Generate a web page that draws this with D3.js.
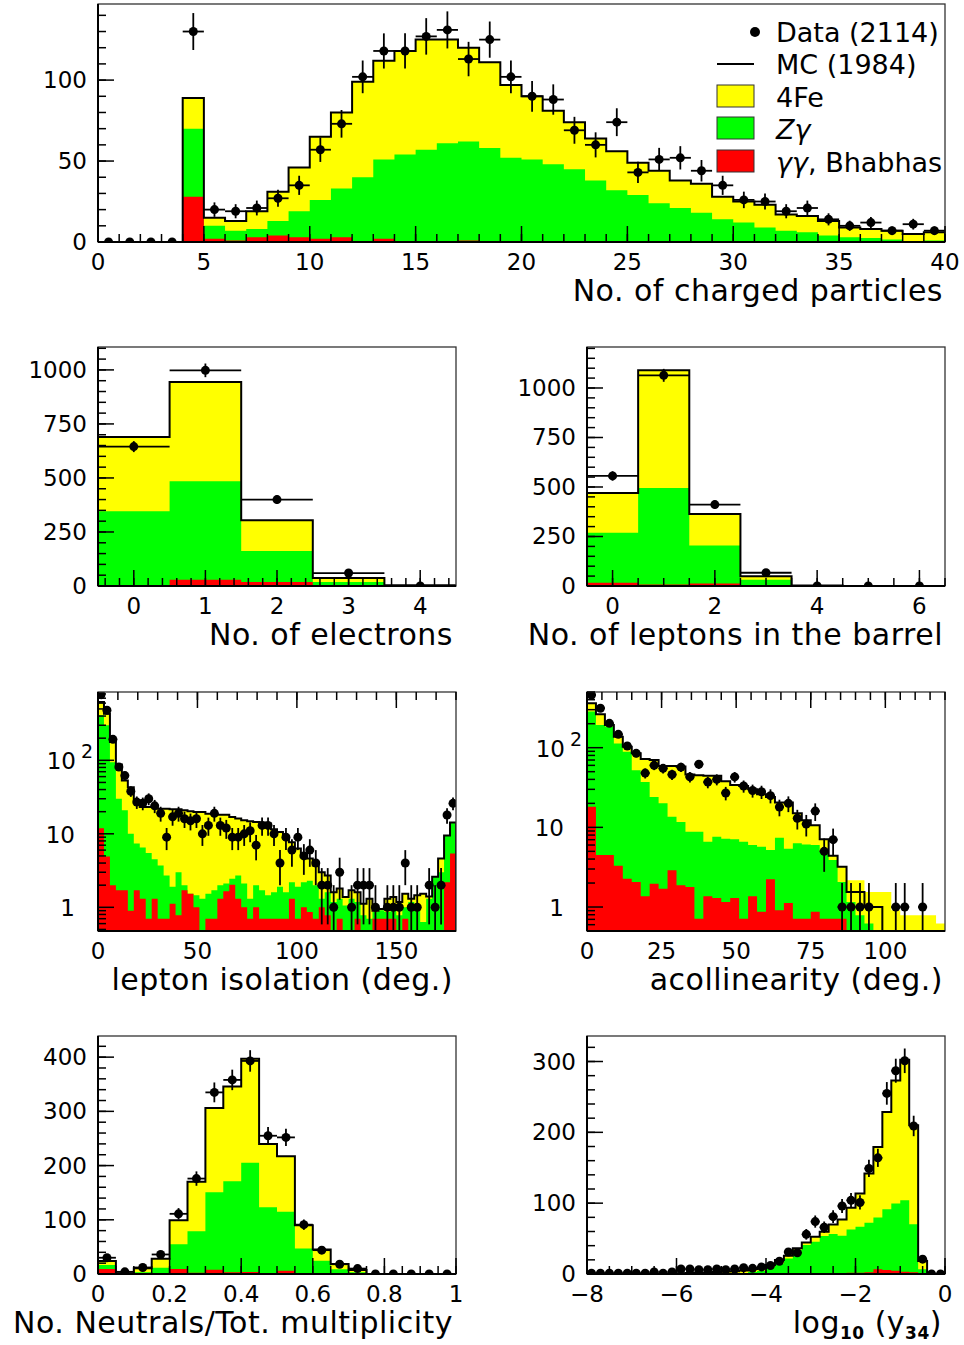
<!DOCTYPE html>
<html>
<head>
<meta charset="utf-8">
<script src="https://cdn.jsdelivr.net/npm/d3@7"></script>
<style>
  body { margin: 0; background: #fff; }
  svg { display: block; font-family: "DejaVu Sans", sans-serif; }
</style>
</head>
<body>
<svg id="chart" width="964" height="1345"></svg>
<script>
// ---- No. of charged particles (40 bins, 0..40)
const nchData = [0,0,0,0,130,20,19,21,27,35,57,73,102,118,118,127,131,113,125,102,90,88,69,60,74,43,51,52,44,35,26,25,19,21,14,10,12,7,11,7]
const nchMC = [0,0,0,0,89,15,13,19,31,46,65,80,99,112,118,125,125,120,111,97,90,81,74,64,56,49,44,38,36,28,25,23,17,16,13,9,8,7,5,6]
const nchZg = [0,0,0,0,70,10,7,8,13,19,26,33,40,51,54,57,61,62,58,52,51,48,45,38,32,29,24,21,18,14,12,9,7,6,4,3,2.5,1.5,0.5,1]
const nchGG = [0,0,0,0,28,2,1,3,4,3,2,3,0.5,2,0,0,0,1,0,0,0,0,0,0,0,0,0,0,0,0,0,0,0,0,0,0,0,0,0,0]

// ---- No. of electrons (0..4)
const eleData = [645,998,400,60,0]
const eleMC = [690,944,304,37,3]
const eleZg = [346,485,162,18,0]
const eleGG = [0,29,18.5,0,0]

// ---- No. of leptons in the barrel (0..6)
const barData = [556,1064,411,67,0,0,0]
const barMC = [470,1089,364,49,3,0,0]
const barZg = [269,495,205,32,0,0,0]
const barGG = [17,8,12,0,0,0,0]

// ---- lepton isolation (60 bins of 3 deg)
const isoData = [780,480,193,81,62,38,27,26,30,24,19,9,17,19,16,15,16,10,13,19,13,12,9,9,10,11,7,13,13,10,4,9,6,9,5,6,4,2,2,1,3,0,1,2,2,2,1,0,1,1,1,4,1,1,0,2,1,2,18,26]
const isoMC = [620,430,178,88,53,43,28.6,23.2,23.2,23.2,22,22,21.5,21.5,20.9,20.3,19.8,19.8,18.8,18.8,18.2,18.2,16.9,16.1,15.3,14.8,14.5,14.2,13.7,11.5,10.6,8.6,7.7,6.3,5.4,4.6,3.7,3.0,2.7,1.6,1.8,1.38,1.7,1.6,1.12,1.31,0.9,0.95,1.31,1.38,1.18,1.53,1.31,1.46,1.53,1.4,2.6,4.6,9.5,14.2]
const isoZg = [410,300,94,30,21,10,7.4,6.5,5.5,4.5,3.7,2.7,1.9,3.0,2.0,1.53,1.46,1.31,1.53,1.7,2.0,2.1,2.45,2.7,2.1,1.31,2.0,1.7,1.46,1.6,1.9,1.6,2.2,1.9,2.2,2.3,2.0,1.31,1.6,1.18,1.31,1.06,1.31,1.18,0.78,0.70,0.86,0.91,0.86,0.91,0.78,1.0,1.18,1.0,0.63,1.31,2.6,3.0,9.5,14.2]
const isoGG = [11.9,4.9,2.0,1.7,1.7,0.9,1.7,1.31,0.7,1.31,0.7,0.7,1.12,0.78,1.7,1.53,1.0,0,0.7,0.7,1.31,1.65,2.03,1.31,1.0,0.7,1.0,0.7,0.7,0.7,0.7,0.7,1.31,0.7,1.0,0.86,0.7,1.0,0.78,0,0.7,0,0,0.7,0,0,0.7,0.7,0.7,0.7,0,0.7,0,0,0,0,0,0,2.2,5.4]

// ---- acollinearity (40 bins of 3 deg)
const acoData = [459,313,202,147,105,85,48,60,55,46,57,43,62,37,40,27,43,33,29,28,25,18,20,13,11,16,5,7,1,1,1,1,0,0,1,1,0,1,0,0]
const acoMC = [361,263,193,137,103,85,72,70,59,59,58,46,45,44.5,44.5,38,34,33,30,26,24,20.5,20.5,15,12.3,10.6,7.1,4.4,3.2,1.54,1.54,1.0,1.0,0,0,0,0,0,0,0]
const acoFe = [361,263,193,137,103,85,72,70,59,59,58,46,45,44.5,44.5,38,34,33,30,26,24,20.5,20.5,15,12.3,10.6,7.1,4.4,3.2,2.16,2.16,1.54,1.54,1.54,0.91,0.79,0.79,0.79,0.79,0.62]
const acoZg = [284,193,184,113,89,52,37,24,20,13.6,11.7,8.8,8.8,6.6,7.6,7.2,7.1,6.6,6.0,5.7,5.2,7.4,5.4,6.3,6.1,6.0,4.9,3.9,2.06,1.16,0.79,0.62,0,0,0,0,0,0,0,0]
const acoGG = [18.1,4.5,4.5,3.3,2.27,2.06,1.37,1.96,1.7,2.89,1.87,1.78,0.71,1.37,1.3,1.16,1.3,0.71,1.37,0.87,2.23,0.91,1.12,0.71,0.71,0.87,0.71,0.71,0.71,0,0,0,0,0,0,0,0,0,0,0]

// ---- No. Neutrals / Tot. multiplicity (20 bins of 0.05)
const neuData = [30,4,12,36,111,176,335,358,393,255,252,91,44,18,10,0,0,0,0,0]
const neuMC = [24,1.2,10.4,28,99,170,306,346,397,240,217,90,45,18.4,7.4,0,0,0,0,0]
const neuZg = [16.6,0.6,3,11.7,55,79,151,171,205,123,115,47,24.5,8.6,3,0,0,0,0,0]
const neuGG = [9.2,0,0.5,0,9.2,2.5,8,3,3.7,1,6,0,0,0,0,0,0,0,0,0]

// ---- log10(y34) (40 bins of 0.2, -8..0)
const y34Data = [1,1,1,1,1,1,1,3,1,3,7,7,6,6,7,6,7,9,8,10,12,18,31,30,56,74,66,81,96,104,101,149,164,255,287,301,209,21,0,0]
const y34MC = [0.5,0.5,0.5,0.5,0.5,0.5,0.5,0.5,0.5,0.5,1,1.5,2,2,3,3.5,4,5,7,9,12.7,19.7,25.8,36.2,44.6,52.6,59.6,70,77,93.4,113.6,141.8,179.3,228.6,273.2,302.3,209.9,18.3,0,0]
const y34Zg = [0,0,0,0,0,0,0,0,0,0,0,0,0,0,0,0.5,1,1.5,2.8,4.7,9.4,15,22,33.8,40.8,45.5,53.5,56.3,54,62.9,66.7,72.3,79.8,91.5,99.5,104.2,70.4,6.6,0,0]
const y34GG = [0,0,0,0,0,0,0,0,0,0,0,0,0,0,0,0,0,0,0,0,0,0,0,0,0,1,1,1,1,1.9,1.9,2.3,6.6,5.6,4.7,3.3,2.3,0,0,0]

const YEL = "#ffff00", GRN = "#00ff00", RED = "#ff0000";
const svg = d3.select("#chart");
let clipCount = 0

//Ticks from a to b every step, rounded to avoid float noise
function tickRange(step, a, b) {
  return d3.range(Math.ceil(a / step - 1e-9), Math.floor(b / step + 1e-9) + 1).map(k => +(k * step).toFixed(6));
}

function fmtNum(d) {
  return d < 0 ? "\u2212" + Math.abs(d) : String(d);
}

function panel(p) {
  const g = svg.append("g");
  const x = d3.scaleLinear().domain([p.lo, p.hi]).range([p.left, p.right]);
  const y = (p.log ? d3.scaleLog() : d3.scaleLinear()).domain(p.yDomain).range([p.bottom, p.top]).clamp(true);
  const n = p.data.length;
  const w = (p.hi - p.lo) / n;

  const cid = "clip" + (clipCount++);
  g.append("clipPath").attr("id", cid).append("rect")
    .attr("x", p.left).attr("y", p.top).attr("width", p.right - p.left).attr("height", p.bottom - p.top);
  const inner = g.append("g").attr("clip-path", "url(#" + cid + ")");

  // stacked fills drawn as steps
  const stepPts = vals => d3.range(n + 1).map(i => [p.lo + i * w, vals[Math.min(i, n - 1)]]);
  const area = d3.area().curve(d3.curveStepAfter)
    .x(d => x(d[0])).y0(p.bottom).y1(d => y(d[1]));
  inner.append("path").attr("d", area(stepPts(p.fe || p.mc))).attr("fill", YEL);
  inner.append("path").attr("d", area(stepPts(p.zg))).attr("fill", GRN);
  inner.append("path").attr("d", area(stepPts(p.gg))).attr("fill", RED);

  // MC outline
  const outline = [[p.lo, 0]]
    .concat(d3.range(n).flatMap(i => [[p.lo + i * w, p.mc[i]], [p.lo + (i + 1) * w, p.mc[i]]]))
    .concat([[p.hi, 0]]);
  inner.append("path")
    .attr("d", d3.line().x(d => x(d[0])).y(d => y(d[1]))(outline))
    .attr("fill", "none").attr("stroke", "#000").attr("stroke-width", 2);

  // data with errors
  p.data.forEach((v, i) => {
    if (p.log && v <= 0) return;
    const cx = x(p.lo + (i + 0.5) * w);
    const dg = inner.append("g");
    if (v > 0) {
      const e = Math.sqrt(v);
      dg.append("line").attr("x1", x(p.lo + i * w)).attr("x2", x(p.lo + (i + 1) * w))
        .attr("y1", y(v)).attr("y2", y(v)).attr("stroke", "#000").attr("stroke-width", 1.8);
      dg.append("line").attr("x1", cx).attr("x2", cx)
        .attr("y1", y(Math.max(v - e, 0))).attr("y2", y(v + e)).attr("stroke", "#000").attr("stroke-width", 1.8);
    }
    dg.append("circle").attr("cx", cx).attr("cy", y(v)).attr("r", 4.5).attr("fill", "#000");
  });

  // frame
  g.append("rect").attr("x", p.left).attr("y", p.top)
    .attr("width", p.right - p.left).attr("height", p.bottom - p.top)
    .attr("fill", "none").attr("stroke", "#333").attr("stroke-width", 1.3);

  const ax = g.append("g").attr("stroke", "#000").attr("stroke-width", 1.5);
  // x ticks: bottom pointing up, or top pointing down for log panels
  const tickY = p.log ? p.top : p.bottom;
  const dir = p.log ? 1 : -1;
  tickRange(p.xMinor, p.lo, p.hi).forEach(t => {
    ax.append("line").attr("x1", x(t)).attr("x2", x(t)).attr("y1", tickY).attr("y2", tickY + dir * 8);
  });
  tickRange(p.xMajor, p.lo, p.hi).forEach(t => {
    ax.append("line").attr("x1", x(t)).attr("x2", x(t)).attr("y1", tickY).attr("y2", tickY + dir * 16);
    g.append("text").attr("x", x(t)).attr("y", p.bottom + 28)
      .attr("text-anchor", "middle").attr("font-size", 23).text(fmtNum(t));
  });

  // y ticks
  if (p.log) {
    const lo = p.yDomain[0], hi = p.yDomain[1];
    for (let dec = -1; dec <= 3; dec++) {
      for (let k = 1; k <= 9; k++) {
        const v = k * Math.pow(10, dec);
        if (v < lo || v > hi) continue;
        ax.append("line").attr("x1", p.left).attr("x2", p.left + (k === 1 ? 16 : 8))
          .attr("y1", y(v)).attr("y2", y(v));
      }
    }
    [[1, "1"], [10, "10"]].forEach(([v, t]) => {
      g.append("text").attr("x", p.left - 23).attr("y", y(v) + 9)
        .attr("text-anchor", "end").attr("font-size", 23).text(t);
    });
    const t2 = g.append("text").attr("x", p.left - 5).attr("y", y(100) + 9)
      .attr("text-anchor", "end").attr("font-size", 23);
    t2.append("tspan").text("10");
    t2.append("tspan").attr("dx", 5).attr("dy", -11).attr("font-size", 19).text("2");
  } else {
    tickRange(p.yMinor, p.yDomain[0], p.yDomain[1]).forEach(t => {
      ax.append("line").attr("x1", p.left).attr("x2", p.left + 8).attr("y1", y(t)).attr("y2", y(t));
    });
    tickRange(p.yMajor, p.yDomain[0], p.yDomain[1]).forEach(t => {
      ax.append("line").attr("x1", p.left).attr("x2", p.left + 16).attr("y1", y(t)).attr("y2", y(t));
      g.append("text").attr("x", p.left - 11).attr("y", y(t) + 8)
        .attr("text-anchor", "end").attr("font-size", 23).text(fmtNum(t));
    });
  }
  // axis lines
  ax.append("line").attr("x1", p.left).attr("x2", p.right).attr("y1", p.bottom).attr("y2", p.bottom).attr("stroke-width", 2);
  ax.append("line").attr("x1", p.left).attr("x2", p.left).attr("y1", p.top).attr("y2", p.bottom).attr("stroke-width", 2);

  // axis title
  const title = g.append("text").attr("x", p.titleX).attr("y", p.bottom + 59)
    .attr("text-anchor", "end").attr("font-size", 30).attr("letter-spacing", 0.5);
  if (typeof p.title === "function") p.title(title);
  else title.text(p.title);
  return {g, x, y};
}

panel({left: 98, right: 945, top: 4, bottom: 242, lo: 0, hi: 40, yDomain: [0, 147],
  xMajor: 5, xMinor: 1, yMajor: 50, yMinor: 10,
  data: nchData, mc: nchMC, zg: nchZg, gg: nchGG,
  title: "No. of charged particles", titleX: 943});

panel({left: 98, right: 456, top: 347, bottom: 586, lo: -0.5, hi: 4.5, yDomain: [0, 1106],
  xMajor: 1, xMinor: 0.2, yMajor: 250, yMinor: 50,
  data: eleData, mc: eleMC, zg: eleZg, gg: eleGG,
  title: "No. of electrons", titleX: 453});

panel({left: 587, right: 945, top: 347, bottom: 586, lo: -0.5, hi: 6.5, yDomain: [0, 1207],
  xMajor: 2, xMinor: 0.5, yMajor: 250, yMinor: 50,
  data: barData, mc: barMC, zg: barZg, gg: barGG,
  title: "No. of leptons in the barrel", titleX: 943});

panel({left: 98, right: 456, top: 692, bottom: 931, lo: 0, hi: 180, yDomain: [0.476, 850], log: true,
  xMajor: 50, xMinor: 10,
  data: isoData, mc: isoMC, zg: isoZg, gg: isoGG,
  title: "lepton isolation (deg.)", titleX: 453});

panel({left: 587, right: 945, top: 692, bottom: 931, lo: 0, hi: 120, yDomain: [0.5, 500], log: true,
  xMajor: 25, xMinor: 5,
  data: acoData, mc: acoMC, fe: acoFe, zg: acoZg, gg: acoGG,
  title: "acollinearity (deg.)", titleX: 943});

panel({left: 98, right: 456, top: 1036, bottom: 1274, lo: 0, hi: 1, yDomain: [0, 439],
  xMajor: 0.2, xMinor: 0.05, yMajor: 100, yMinor: 20,
  data: neuData, mc: neuMC, zg: neuZg, gg: neuGG,
  title: "No. Neutrals/Tot. multiplicity", titleX: 453});

panel({left: 587, right: 945, top: 1036, bottom: 1274, lo: -8, hi: 0, yDomain: [0, 336],
  xMajor: 2, xMinor: 0.5, yMajor: 100, yMinor: 20,
  data: y34Data, mc: y34MC, zg: y34Zg, gg: y34GG, titleX: 942,
  title: t => {
    t.append("tspan").text("log");
    t.append("tspan").attr("dy", 6).attr("font-size", 17).attr("font-weight", "bold").text("10");
    t.append("tspan").attr("dy", -6).text(" (y");
    t.append("tspan").attr("dy", 6).attr("font-size", 17).attr("font-weight", "bold").text("34");
    t.append("tspan").attr("dy", -6).text(")");
  }});

// legend of the top panel
const leg = svg.append("g").attr("font-size", 27);
leg.append("circle").attr("cx", 755).attr("cy", 32).attr("r", 5).attr("fill", "#000");
leg.append("line").attr("x1", 717).attr("x2", 754).attr("y1", 64).attr("y2", 64).attr("stroke", "#000").attr("stroke-width", 2);
[[85, YEL], [117, GRN], [150, RED]].forEach(([yy, c]) => {
  leg.append("rect").attr("x", 717).attr("y", yy).attr("width", 37).attr("height", 22)
    .attr("fill", c).attr("stroke", "#333").attr("stroke-width", 1);
});
leg.append("text").attr("x", 776).attr("y", 42).text("Data (2114)");
leg.append("text").attr("x", 776).attr("y", 74).text("MC (1984)");
leg.append("text").attr("x", 776).attr("y", 107).text("4Fe");
const zt = leg.append("text").attr("x", 776).attr("y", 139);
zt.append("tspan").attr("font-style", "italic").text("Z\u03b3");
const bt = leg.append("text").attr("x", 776).attr("y", 172);
bt.append("tspan").attr("font-style", "italic").text("\u03b3\u03b3");
bt.append("tspan").text(", Bhabhas");
</script>
</body>
</html>
